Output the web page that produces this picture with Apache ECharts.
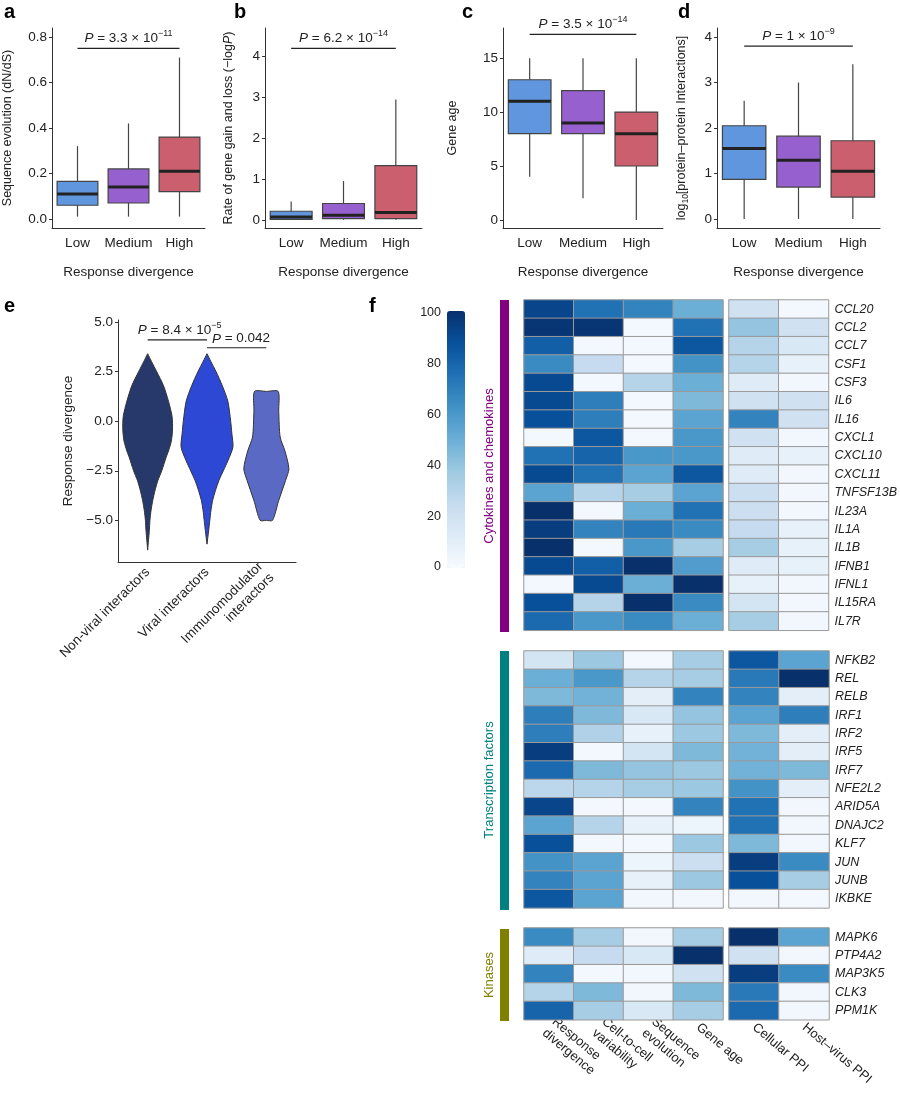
<!DOCTYPE html>
<html><head><meta charset="utf-8">
<script src="https://cdn.jsdelivr.net/npm/echarts@6/dist/echarts.min.js"></script>
<style>html,body{margin:0;padding:0;background:#fff}#c{width:900px;height:1100px}</style>
</head><body><div id="c"></div>
<script>
// ---------- DATA ----------
const boxCats = ['Low','Medium','High'];
// [min, q1, median, q3, max]
const boxA = [[0.01,0.06,0.11,0.165,0.32],[0.01,0.07,0.14,0.22,0.42],[0.01,0.12,0.21,0.36,0.71]];
const boxB = [[0,0.01,0.07,0.21,0.45],[0,0.03,0.11,0.4,0.95],[0,0.03,0.18,1.33,2.95]];
const boxC = [[4,8,11,13,15],[2,8,9,12,15],[0,5,8,10,15]];
const boxD = [[0,0.87,1.55,2.05,2.6],[0,0.7,1.29,1.82,3.0],[0,0.48,1.05,1.72,3.4]];
// P-value texts: [mantissa, exponent]
const pA = ['3.3','−11'], pB = ['6.2','−14'], pC = ['3.5','−14'], pD = ['1','−9'];
const pLineA = 0.75, pLineB = 4.2, pLineC = 17.2, pLineD = 3.8;

const violinCats = ['Non-viral interactors','Viral interactors','Immunomodulator\ninteractors'];
// [y, half width as fraction of category band]
const violin1 = [[3.4,0],[3.0,0.07],[2.5,0.16],[1.8,0.28],[1.0,0.37],[0.3,0.43],[0,0.44],[-0.5,0.44],[-1,0.42],[-1.5,0.37],[-1.8,0.33],[-2.5,0.25],[-3,0.18],[-3.5,0.13],[-4,0.09],[-4.5,0.06],[-5,0.04],[-5.5,0.03],[-6,0.015],[-6.5,0]];
const violin2 = [[3.4,0],[3.0,0.07],[2.5,0.16],[1.8,0.27],[1.0,0.37],[0,0.42],[-0.6,0.44],[-1.3,0.46],[-2,0.37],[-2.5,0.29],[-3,0.21],[-3.5,0.15],[-4,0.1],[-4.5,0.07],[-5,0.05],[-5.5,0.03],[-6.2,0]];
const violin3 = [[1.5,0],[1.5,0.21],[0.5,0.22],[-0.8,0.245],[-1.5,0.33],[-2.4,0.4],[-3,0.34],[-4,0.22],[-5,0.11],[-5,0]];
const violinColors = ['#27396b','#2d48d4','#5a6ac4'];
const pE1 = ['8.4','−5'], pE2 = '0.042';

const colsLeft = ['Response\ndivergence','Cell-to-cell\nvariability','Sequence\nevolution','Gene age'];
const colsRight = ['Cellular PPI','Host–virus PPI'];

const genesCyto = ['CCL20','CCL2','CCL7','CSF1','CSF3','IL6','IL16','CXCL1','CXCL10','CXCL11','TNFSF13B','IL23A','IL1A','IL1B','IFNB1','IFNL1','IL15RA','IL7R'];
const valsCyto = [
 [92,75,68,50,20,2],[98,98,2,75,40,20],[82,2,2,85,30,15],[65,25,2,62,30,8],[90,2,30,50,12,3],
 [90,70,2,45,20,20],[88,70,2,55,68,20],[2,85,2,60,20,3],[75,80,60,60,12,8],[90,75,55,85,12,3],
 [55,30,35,55,22,3],[100,2,50,75,22,3],[95,68,72,65,25,8],[100,2,60,35,35,8],[90,82,100,58,12,8],
 [2,90,50,100,8,3],[88,30,100,65,18,3],[78,60,65,50,35,3]];
const genesTF = ['NFKB2','REL','RELB','IRF1','IRF2','IRF5','IRF7','NFE2L2','ARID5A','DNAJC2','KLF7','JUN','JUNB','IKBKE'];
const valsTF = [
 [18,38,2,35,85,55],[50,60,30,35,72,100],[45,48,10,68,68,10],[70,45,15,40,55,70],[70,32,8,38,45,10],
 [95,2,18,45,48,10],[78,45,40,38,48,45],[28,30,35,38,62,10],[92,2,2,68,75,3],[55,30,8,5,75,3],
 [88,2,2,38,45,3],[62,55,5,22,95,65],[68,55,8,38,88,35],[85,55,3,3,3,2]];
const genesKin = ['MAPK6','PTP4A2','MAP3K5','CLK3','PPM1K'];
const valsKin = [[65,35,3,35,100,55],[12,25,15,100,20,3],[68,2,3,20,95,65],[30,45,3,45,72,3],[80,35,15,35,78,3]];

// ---------- OPTION BUILD ----------
const FONT = 'Liberation Sans, Arial, sans-serif';
const TXT = '#222';
const boxColors = ['#6096dd','#9661cf','#cc5f6e'];
const grids = [], xAxes = [], yAxes = [], series = [];
const RICH = {
  n:{fontSize:13.5,color:TXT,fontFamily:FONT,lineHeight:18},
  i:{fontStyle:'italic',fontSize:13.5,color:TXT,fontFamily:FONT,lineHeight:18},
  s:{fontSize:9,color:TXT,fontFamily:FONT,verticalAlign:'top',lineHeight:18,padding:[0,0,6,0]}
};
function pLabel(p){ return '{i|P}{n| = '+p[0]+' × 10}{s|'+p[1]+'}'; }

function boxPanel(gi, left, top, width, height, data, ymin, ymax, ticks, fmt, yname, nameGap, pText, pLine){
  grids.push({left:left, top:top, width:width, height:height});
  xAxes.push({type:'category', gridIndex:gi, data:boxCats, boundaryGap:true,
    axisLine:{onZero:false,lineStyle:{color:'#333'}}, axisTick:{alignWithLabel:true,length:3,lineStyle:{color:'#333'}},
    axisLabel:{color:TXT,fontSize:13.5,fontFamily:FONT,margin:8,interval:0},
    name:'Response divergence', nameLocation:'middle', nameGap:37,
    nameTextStyle:{color:TXT,fontSize:13.5,fontFamily:FONT}});
  yAxes.push({type:'value', gridIndex:gi, min:ymin, max:ymax, splitLine:{show:false},
    axisLine:{show:true,onZero:false,lineStyle:{color:'#333'}}, axisTick:{show:true,length:3,customValues:ticks,lineStyle:{color:'#333'}},
    axisLabel:{color:TXT,fontSize:13.5,fontFamily:FONT,customValues:ticks,formatter:fmt,margin:5},
    name:yname, nameLocation:'middle', nameGap:nameGap,
    nameTextStyle:{color:TXT,fontSize:12.5,fontFamily:FONT,rich:{
      i:{fontStyle:'italic',fontSize:12.5,color:TXT,fontFamily:FONT,lineHeight:16},
      t:{fontSize:12.5,color:TXT,fontFamily:FONT,lineHeight:16},
      s:{fontSize:8.5,color:TXT,fontFamily:FONT,verticalAlign:'bottom',lineHeight:16}}}});
  series.push({type:'custom', xAxisIndex:gi, yAxisIndex:gi,
    data: data.map((d,i)=>[i].concat(d)),
    renderItem:function(params, api){
      const i = api.value(0);
      const band = api.size([1,0])[0];
      const hw = band*0.4;
      const pMin = api.coord([i, api.value(1)]), pQ1 = api.coord([i, api.value(2)]),
            pMed = api.coord([i, api.value(3)]), pQ3 = api.coord([i, api.value(4)]), pMax = api.coord([i, api.value(5)]);
      const x = pMin[0];
      return {type:'group', children:[
        {type:'line', shape:{x1:x,y1:pMin[1],x2:x,y2:pMax[1]}, style:{stroke:'#444',lineWidth:1.2}},
        {type:'rect', shape:{x:x-hw,y:pQ3[1],width:hw*2,height:pQ1[1]-pQ3[1]}, style:{fill:boxColors[i],stroke:'#444',lineWidth:1.2}},
        {type:'line', shape:{x1:x-hw,y1:pMed[1],x2:x+hw,y2:pMed[1]}, style:{stroke:'#222',lineWidth:3}}
      ]};
    }});
  series.push({type:'line', xAxisIndex:gi, yAxisIndex:gi, data:[['Low',pLine],['High',pLine]],
    symbol:'none', lineStyle:{color:'#222',width:1.2}, silent:true,
    markPoint:{symbol:'circle',symbolSize:0, data:[{coord:['Medium',pLine], label:{show:true, position:'top', distance:1,
      formatter:pLabel(pText), rich:RICH}}]}});
}
const f1 = v=>v.toFixed(1);
const f0 = v=>String(v);
boxPanel(0, 50, 28, 155, 200, boxA, -0.04, 0.84, [0,0.2,0.4,0.6,0.8], f1, 'Sequence evolution (dN/dS)', 38, pA, pLineA);
boxPanel(1, 265, 28, 157, 200, boxB, -0.2, 4.7, [0,1,2,3,4], f0, '{t|Rate of gene gain and loss (−log}{i|P}{t|)}', 28, pB, pLineB);
boxPanel(2, 503, 28, 160, 200, boxC, -0.75, 17.8, [0,5,10,15], f0, 'Gene age', 44, pC, pLineC);
boxPanel(3, 717, 28, 163, 200, boxD, -0.2, 4.2, [0,1,2,3,4], f0, '{t|log}{s|10}{t|[protein–protein Interactions]}', 27, pD, pLineD);

// ---- panel e (violin) ----
grids.push({left:118, top:320, width:178, height:242});
xAxes.push({type:'category', gridIndex:4, data:violinCats, boundaryGap:true,
  axisLine:{onZero:false,lineStyle:{color:'#333'}}, axisTick:{alignWithLabel:true,length:3,lineStyle:{color:'#333'}},
  axisLabel:{color:TXT,fontSize:13.5,fontFamily:FONT,rotate:45,margin:8,interval:0,lineHeight:16}});
yAxes.push({type:'value', gridIndex:4, min:-7.1, max:5.1, splitLine:{show:false},
  axisLine:{show:true,onZero:false,lineStyle:{color:'#333'}}, axisTick:{show:true,length:3,customValues:[-5,-2.5,0,2.5,5],lineStyle:{color:'#333'}},
  axisLabel:{color:TXT,fontSize:13.5,fontFamily:FONT,customValues:[-5,-2.5,0,2.5,5],formatter:v=>v.toFixed(1).replace('-','−'),margin:5},
  name:'Response divergence', nameLocation:'middle', nameGap:43, nameTextStyle:{color:TXT,fontSize:13.5,fontFamily:FONT}});
const violins = [violin1, violin2, violin3];
series.push({type:'custom', xAxisIndex:4, yAxisIndex:4, data:[[0],[1],[2]],
  renderItem:function(params, api){
    const i = api.value(0);
    const band = api.size([1,0])[0] * 0.95;
    const prof = violins[i];
    const right = prof.map(p=>{const c = api.coord([i,p[0]]); return [c[0]+p[1]*band, c[1]];});
    const left = prof.slice().reverse().map(p=>{const c = api.coord([i,p[0]]); return [c[0]-p[1]*band, c[1]];});
    return {type:'polygon', shape:{points:right.concat(left), smooth:0.25}, style:{fill:violinColors[i], stroke:'#333', lineWidth:1}};
  }});
series.push({type:'line', xAxisIndex:4, yAxisIndex:4, data:[[violinCats[0],4.1],[violinCats[1],4.1]], symbol:'none', lineStyle:{color:'#222',width:1.2},
  markPoint:{symbol:'circle',symbolSize:0,data:[{coord:[violinCats[0],4.1],label:{show:true,position:'top',distance:1,offset:[32,0],formatter:pLabel(pE1),rich:RICH}}]}});
series.push({type:'line', xAxisIndex:4, yAxisIndex:4, data:[[violinCats[1],3.7],[violinCats[2],3.7]], symbol:'none', lineStyle:{color:'#222',width:1.2},
  markPoint:{symbol:'circle',symbolSize:0,data:[{coord:[violinCats[1],3.7],label:{show:true,position:'top',distance:0,offset:[34,0],formatter:'{i|P}{n| = '+pE2+'}',rich:RICH}}]}});

// ---- colour bar axis ----
grids.push({left:447, top:313, width:18, height:254});
xAxes.push({type:'category', gridIndex:5, data:['v'], show:false});
yAxes.push({type:'value', gridIndex:5, min:0, max:100, interval:20, splitLine:{show:false}, axisLine:{show:false}, axisTick:{show:false},
  axisLabel:{color:TXT,fontSize:12.5,fontFamily:FONT,margin:6}});

// ---- heatmaps ----
const hmSeries = [];
function hmGrid(gi, left, width, top, genes, vals, cols, colOffset, showX, showY){
  grids.push({left:left, top:top, width:width, height:genes.length*18.35});
  xAxes.push({type:'category', gridIndex:gi, data:cols, position:'bottom', axisLine:{show:false}, axisTick:{show:false}, splitLine:{show:false},
    axisLabel:{show:showX, rotate:-40, interval:0, color:TXT, fontSize:13, fontFamily:FONT, margin:6, align:'left', lineHeight:15}});
  yAxes.push({type:'category', gridIndex:gi, data:genes, inverse:true, position:'right', axisLine:{show:false}, axisTick:{show:false}, splitLine:{show:false},
    axisLabel:{show:showY, color:TXT, fontSize:12.5, fontFamily:FONT, fontStyle:'italic', margin:6, interval:0}});
  const d = [];
  vals.forEach((row,r)=>cols.forEach((c,ci)=>d.push([ci, r, row[ci+colOffset]])));
  hmSeries.push(series.length);
  series.push({type:'heatmap', xAxisIndex:gi, yAxisIndex:gi, data:d, itemStyle:{borderColor:'#9a9a9a', borderWidth:1}, emphasis:{disabled:true}});
}
hmGrid(6, 524, 199, 300, genesCyto, valsCyto, colsLeft, 0, false, false);
hmGrid(7, 729, 100, 300, genesCyto, valsCyto, colsRight, 4, false, true);
hmGrid(8, 524, 199, 651, genesTF, valsTF, colsLeft, 0, false, false);
hmGrid(9, 729, 100, 651, genesTF, valsTF, colsRight, 4, false, true);
hmGrid(10, 524, 199, 928, genesKin, valsKin, colsLeft, 0, true, false);
hmGrid(11, 729, 100, 928, genesKin, valsKin, colsRight, 4, true, true);

const option = {
  animation:false,
  grid:grids, xAxis:xAxes, yAxis:yAxes, series:series,
  visualMap:{type:'continuous', min:0, max:100, seriesIndex:hmSeries, left:447, top:311, itemWidth:18, itemHeight:257,
    padding:0, calculable:false, showLabel:false, text:null, orient:'vertical',
    inRange:{color:['#f7fbff','#deebf7','#c6dbef','#9ecae1','#6baed6','#4292c6','#2171b5','#08519c','#08306b']}},
  graphic:[
    {type:'text',left:4,top:2,style:{text:'a',font:'bold 20px '+FONT,fill:'#000'}},
    {type:'text',left:234,top:2,style:{text:'b',font:'bold 20px '+FONT,fill:'#000'}},
    {type:'text',left:462,top:2,style:{text:'c',font:'bold 20px '+FONT,fill:'#000'}},
    {type:'text',left:678,top:2,style:{text:'d',font:'bold 20px '+FONT,fill:'#000'}},
    {type:'text',left:4,top:296,style:{text:'e',font:'bold 20px '+FONT,fill:'#000'}},
    {type:'text',left:369,top:296,style:{text:'f',font:'bold 20px '+FONT,fill:'#000'}},
    {type:'rect',shape:{x:500,y:300,width:9,height:332},style:{fill:'#800080'}},
    {type:'rect',shape:{x:500,y:651,width:9,height:259},style:{fill:'#008080'}},
    {type:'rect',shape:{x:500,y:929,width:9,height:92},style:{fill:'#808000'}},
    {type:'text',x:489,y:466,rotation:Math.PI/2,style:{text:'Cytokines and chemokines',font:'13px '+FONT,fill:'#800080',align:'center',verticalAlign:'middle'}},
    {type:'text',x:489,y:780,rotation:Math.PI/2,style:{text:'Transcription factors',font:'13px '+FONT,fill:'#008080',align:'center',verticalAlign:'middle'}},
    {type:'text',x:489,y:975,rotation:Math.PI/2,style:{text:'Kinases',font:'13px '+FONT,fill:'#808000',align:'center',verticalAlign:'middle'}}
  ]
};
echarts.init(document.getElementById('c'), null, {renderer:'canvas'}).setOption(option);
</script></body></html>
